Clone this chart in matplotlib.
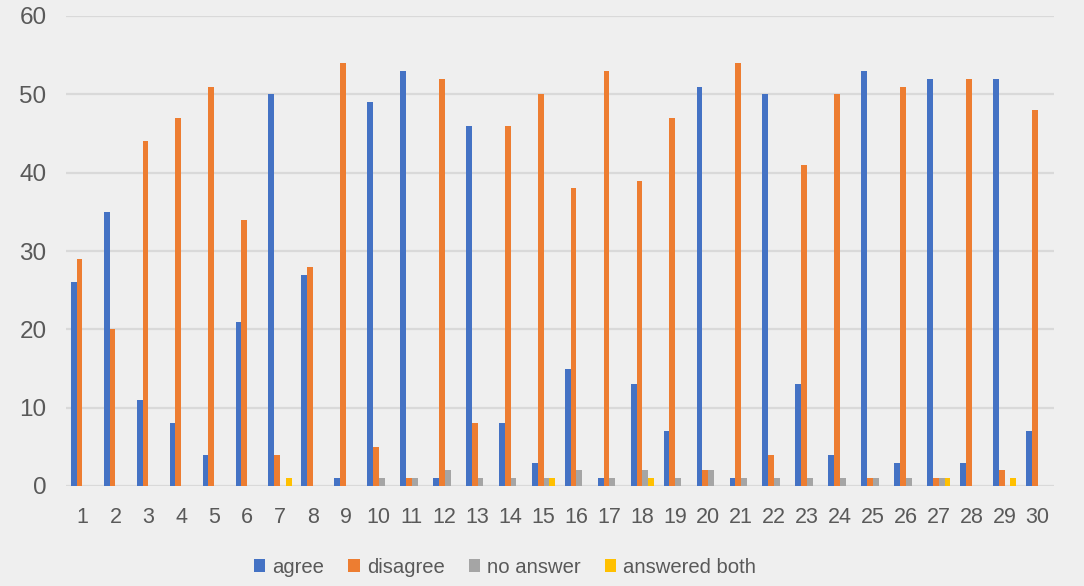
import numpy as np
import matplotlib
matplotlib.use("Agg")
import matplotlib.pyplot as plt

# Survey responses per question
questions = [str(i) for i in range(1, 31)]
agree = [26, 35, 11, 8, 4, 21, 50, 27, 1, 49, 53, 1, 46, 8, 3,
         15, 1, 13, 7, 51, 1, 50, 13, 4, 53, 3, 52, 3, 52, 7]
disagree = [29, 20, 44, 47, 51, 34, 4, 28, 54, 5, 1, 52, 8, 46, 50,
            38, 53, 39, 47, 2, 54, 4, 41, 50, 1, 51, 1, 52, 2, 48]
no_answer = [0, 0, 0, 0, 0, 0, 0, 0, 0, 1, 1, 2, 1, 1, 1,
             2, 1, 2, 1, 2, 1, 1, 1, 1, 1, 1, 1, 0, 0, 0]
answered_both = [0, 0, 0, 0, 0, 0, 1, 0, 0, 0, 0, 0, 0, 0, 1,
                 0, 0, 1, 0, 0, 0, 0, 0, 0, 0, 0, 1, 0, 1, 0]

series_names = ["agree", "disagree", "no answer", "answered both"]
series_values = [agree, disagree, no_answer, answered_both]
series_colors = ["#4472C4", "#ED7D31", "#A5A5A5", "#FFC000"]

bg = "#EFEFEF"
text_color = "#595959"
grid_color = "#D9D9D9"

plt.rcParams["font.family"] = ["Liberation Sans", "DejaVu Sans"]

fig = plt.figure(figsize=(10.84, 5.86), dpi=100, facecolor=bg)
ax = fig.add_axes([66 / 1084, 1 - 486 / 586, 988 / 1084, 470 / 586])
ax.set_facecolor(bg)

x = np.arange(len(questions))
w = 0.176
for i, (name, vals, col) in enumerate(zip(series_names, series_values, series_colors)):
    ax.bar(x + (i - 1.5) * w, vals, width=w, color=col, label=name,
           linewidth=0, zorder=3)

ax.set_xlim(-0.5, len(questions) - 0.5)
ax.set_ylim(0, 60)
ax.set_yticks(range(0, 61, 10))
ax.set_xticks(x)
ax.set_xticklabels(questions)

ax.grid(axis="y", color=grid_color, linewidth=1.6, zorder=0)
ax.grid(axis="x", visible=False)
for s in ax.spines.values():
    s.set_visible(False)
ax.tick_params(axis="both", length=0, colors=text_color)
ax.tick_params(axis="y", pad=14, labelsize=17.5)
ax.tick_params(axis="x", pad=15, labelsize=15.5)

fig.legend(loc="center", bbox_to_anchor=(0.466, 0.032), ncol=4, frameon=False,
           fontsize=14.6, labelcolor=text_color, handlelength=0.55,
           handleheight=0.55, handletextpad=0.35, columnspacing=1.2)

fig.savefig("out.png", dpi=100, facecolor=bg)
